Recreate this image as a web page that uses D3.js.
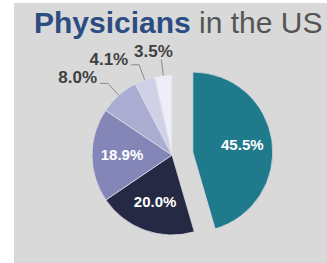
<!DOCTYPE html>
<html>
<head>
<meta charset="utf-8">
<script src="https://cdn.jsdelivr.net/npm/d3@7"></script>
<style>
  body { margin: 0; background: #fff; }
  svg { display: block; font-family: "Liberation Sans", Arial, sans-serif; }
</style>
</head>
<body>
<div id="chart"></div>
<script>
// Share of physicians, clockwise from 12 o'clock
var values = [45.5, 20.0, 18.9, 8.0, 4.1, 3.5];
var labels = ['45.5%', '20.0%', '18.9%', '8.0%', '4.1%', '3.5%'];
var colors = ['#1f7b8c', '#252944', '#8386b7', '#aaacd1', '#d0d1e6', '#eeeef7'];
var outside = [false, false, false, true, true, true];

var width = 327,
    height = 263,
    cx = 172,
    cy = 155,
    radius = 80,
    explode = 21;

var svg = d3.select('#chart').append('svg')
    .attr('width', width)
    .attr('height', height);

// grey panel
svg.append('rect')
    .attr('x', 14)
    .attr('y', 3)
    .attr('width', width - 14)
    .attr('height', height - 3)
    .attr('fill', '#d9d9d9');

// Title
var title = svg.append('text')
    .attr('x', 34)
    .attr('y', 33)
    .style('font-size', '30px');
title.append('tspan')
    .attr('font-weight', 'bold')
    .attr('fill', '#2c4d82')
    .text('Physicians');
title.append('tspan')
    .attr('fill', '#555555')
    .text(' in the US');

var pie = d3.pie().sort(null).value((d) => d);
var arcs = pie(values);

var arc = d3.arc().innerRadius(0).outerRadius(radius);
var labelArc = d3.arc().innerRadius(50).outerRadius(50);

var mid = (d) => (d.startAngle + d.endAngle) / 2;
var offset = function(d, i) {
    if (i !== 0) return [0, 0];
    var a = mid(d);
    return [Math.sin(a) * explode, -Math.cos(a) * explode];
};

var g = svg.append('g')
    .attr('transform', 'translate(' + cx + ',' + cy + ')');

var slices = g.selectAll('g.slice').data(arcs).enter()
    .append('g')
    .attr('class', 'slice')
    .attr('transform', (d, i) => 'translate(' + offset(d, i) + ')');

slices.append('path')
    .attr('d', arc)
    .attr('fill', (d, i) => colors[i])
    .attr('stroke', '#dcdce6')
    .attr('stroke-width', 0.8);

// inside labels
slices.filter((d, i) => !outside[i])
    .append('text')
    .attr('transform', (d) => 'translate(' + labelArc.centroid(d) + ')')
    .attr('text-anchor', 'middle')
    .attr('dy', '0.35em')
    .attr('fill', '#ffffff')
    .attr('font-weight', 'bold')
    .style('font-size', '15px')
    .text((d, i) => labels[i]);

// outside labels with leader lines
var outs = arcs.map((d, i) => ({ d: d, i: i })).filter((o) => outside[o.i]);

outs.forEach(function(o) {
    var a = mid(o.d);
    var p0 = [Math.sin(a) * radius, -Math.cos(a) * radius];
    var p1 = [Math.sin(a) * radius * 1.2, -Math.cos(a) * radius * 1.2];
    var last = o.i === values.length - 1;
    var p2 = last ? p1 : [p1[0] - 8, p1[1]];

    g.append('polyline')
        .attr('points', [p0, p1, p2].map((p) => p.join(',')).join(' '))
        .attr('fill', 'none')
        .attr('stroke', '#8a8a8a')
        .attr('stroke-width', 1);

    g.append('text')
        .attr('x', last ? p1[0] - 8 : p2[0] - 3)
        .attr('y', last ? p1[1] - 3 : p2[1])
        .attr('text-anchor', last ? 'middle' : 'end')
        .attr('fill', '#404040')
        .attr('font-weight', 'bold')
        .style('font-size', '17px')
        .text(labels[o.i]);
});
</script>
</body>
</html>
